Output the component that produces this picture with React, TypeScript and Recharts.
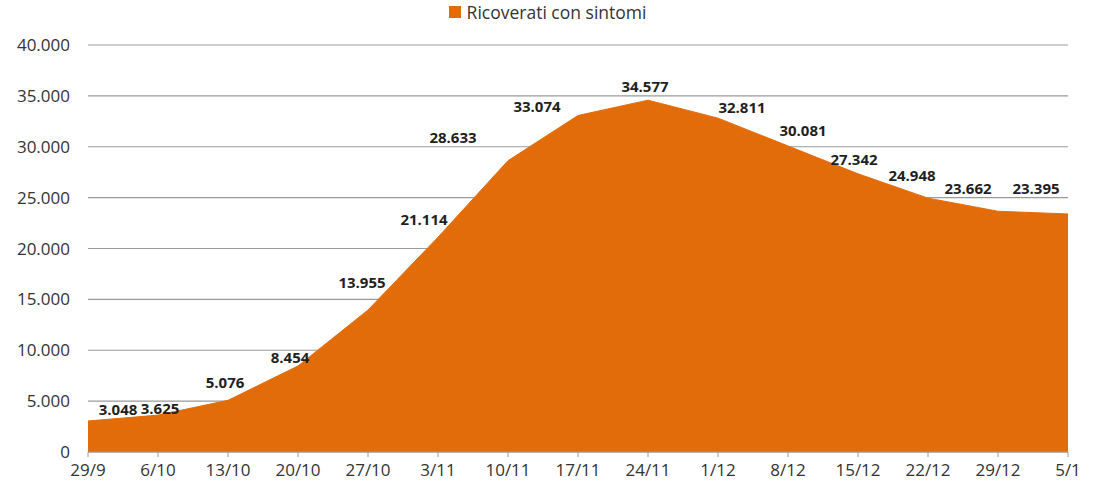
import React from 'react';
import { AreaChart, Area, XAxis, YAxis, CartesianGrid, Legend, LabelList } from 'recharts';

// Ricoverati con sintomi, settimanale
const DATES = ['29/9', '6/10', '13/10', '20/10', '27/10', '3/11', '10/11', '17/11', '24/11', '1/12', '8/12', '15/12', '22/12', '29/12', '5/1'];
const RICOVERATI = [3048, 3625, 5076, 8454, 13955, 21114, 28633, 33074, 34577, 32811, 30081, 27342, 24948, 23662, 23395];
const Y_TICKS = [0, 5000, 10000, 15000, 20000, 25000, 30000, 35000, 40000];

// spostamento delle etichette rispetto al punto (come nell'originale)
const LABEL_SHIFT = [
  [30, -12], [2, -7], [-3, -18], [-8, -9], [-6, -28], [-14, -18], [-55, -24], [-41, -9],
  [-3, -14], [24, -11], [15, -16], [-4, -15], [-16, -23], [-30, -23], [-32, -26],
];

const ORANGE = '#E36C0A';
const FONT = '"Open Sans", sans-serif';

const data = DATES.map((d, i) => ({ data: d, ricoverati: RICOVERATI[i] }));

// separatore delle migliaia con il punto
const fmt = (v: number) => String(v).replace(/\B(?=(\d{3})+(?!\d))/g, '.');

const ValueLabel = (props: any) => {
  const { x, y, value, index } = props;
  const [dx, dy] = LABEL_SHIFT[index] || [0, -12];
  return (
    <text
      x={x + dx}
      y={y + dy}
      textAnchor="middle"
      dominantBaseline="central"
      fontFamily={FONT}
      fontSize={15}
      fontWeight="bold"
      fill="#1f1f1f"
    >
      {fmt(value)}
    </text>
  );
};

const LegendContent = () => (
  <div style={{ display: 'flex', justifyContent: 'center', alignItems: 'center', fontFamily: FONT, fontSize: 17.5, color: '#333', height: 22 }}>
    <span style={{ display: 'inline-block', width: 12, height: 12, background: ORANGE, marginRight: 6 }} />
    <span>Ricoverati con sintomi</span>
  </div>
);

export default function App() {
  return (
    <div style={{ position: 'absolute', left: 0, top: 0, background: '#fff' }}>
      <AreaChart width={1095} height={491} data={data} margin={{ top: 23, right: 27, bottom: 0, left: 10 }}>
        <CartesianGrid vertical={false} stroke="#9a9a9a" strokeWidth={1.2} />
        <XAxis
          dataKey="data"
          height={39}
          stroke="#9a9a9a"
          tickSize={5}
          tickMargin={7}
          tick={{ fill: '#333', fontSize: 17, fontFamily: FONT }}
          interval={0}
        />
        <YAxis
          width={78}
          domain={[0, 40000]}
          ticks={Y_TICKS}
          axisLine={false}
          tickLine={false}
          tickSize={0}
          tickMargin={18}
          tickFormatter={fmt}
          tick={{ fill: '#333', fontSize: 17, fontFamily: FONT }}
        />
        <Legend
          verticalAlign="top"
          height={22}
          content={<LegendContent />}
          wrapperStyle={{ top: 1, left: 0, width: 1095 }}
        />
        <Area
          type="linear"
          dataKey="ricoverati"
          name="Ricoverati con sintomi"
          stroke={ORANGE}
          strokeWidth={1}
          fill={ORANGE}
          fillOpacity={1}
          isAnimationActive={false}
        >
          <LabelList dataKey="ricoverati" content={<ValueLabel />} />
        </Area>
      </AreaChart>
    </div>
  );
}
